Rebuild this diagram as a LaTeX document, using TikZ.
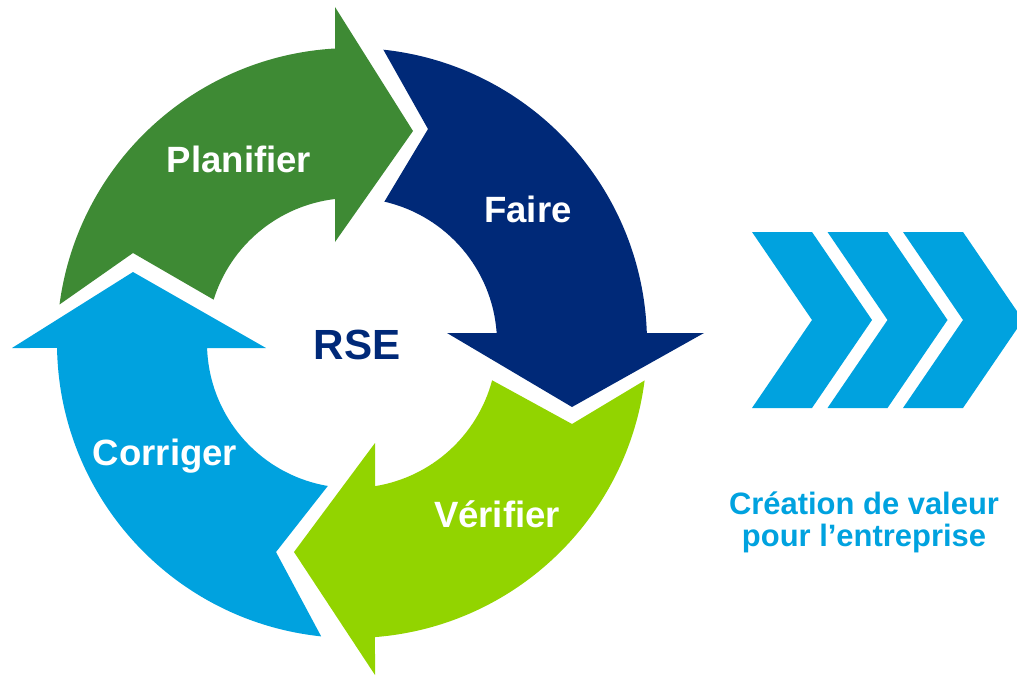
\documentclass[tikz,border=0pt]{standalone}
\usepackage{fontspec}
\setmainfont{Liberation Sans}
\definecolor{planGreen}{HTML}{3E8A34}
\definecolor{faireBlue}{HTML}{002978}
\definecolor{verifGreen}{HTML}{92D400}
\definecolor{corrBlue}{HTML}{00A2DF}

\begin{document}
\begin{tikzpicture}[x=0.025cm, y=-0.025cm,
    lbl/.style={text=white, inner sep=0, anchor=base, font=\bfseries\fontsize{26}{31}\selectfont},
    valtext/.style={text=corrBlue, inner sep=0, anchor=base, font=\bfseries\fontsize{22}{26}\selectfont}]
    \useasboundingbox (0,0) rectangle (1017,676);
    \clip (0,0) rectangle (1017,676);
    \coordinate (c) at (352,343);

    % Draw the cycle arrows
    \fill[planGreen] ([shift={(187.5:295)}]c) arc[start angle=187.5, end angle=266.7, radius=295]
        -- (335,7) -- (413,131) -- (335,242)
        -- ([shift={(263.3:145)}]c) arc[start angle=263.3, end angle=197.4, radius=145]
        -- (133,253) -- cycle;
    \fill[faireBlue] ([shift={(276.1:295)}]c) arc[start angle=276.1, end angle=358.06, radius=295]
        -- (704,333) -- (572,407) -- (447,333)
        -- ([shift={(356.05:145)}]c) arc[start angle=356.05, end angle=282.9, radius=145]
        -- (428,129) -- cycle;
    \fill[verifGreen] ([shift={(7.3:295)}]c) arc[start angle=7.3, end angle=85.53, radius=295]
        -- (375,675) -- (294,552) -- (375,443)
        -- ([shift={(80.87:145)}]c) arc[start angle=80.87, end angle=14.9, radius=145]
        -- (572,424) -- cycle;
    \fill[corrBlue] ([shift={(96:295)}]c) arc[start angle=96, end angle=179.03, radius=295]
        -- (12,348) -- (133,272) -- (266,348)
        -- ([shift={(178.02:145)}]c) arc[start angle=178.02, end angle=99.6, radius=145]
        -- (276,552) -- cycle;

    % Draw labels
    \node[lbl] (plan) at (239,172) {Planifier};
    \node[lbl] (faire) at (528,222) {Faire};
    \node[lbl] (verif) at (497,527) {Vérifier};
    \node[lbl] (corr) at (165,465) {Corriger};
    \node[lbl, text=faireBlue, font=\bfseries\fontsize{30}{36}\selectfont] (rse) at (357,359) {RSE};

    % Draw chevrons
    \foreach \i in {0,1,2} {
        \fill[corrBlue, shift={(752+75.5*\i,0)}] (0,232) -- (60,232) -- (120,320) -- (60,408) -- (0,408) -- (60,320) -- cycle;
    }
    \node[valtext] (val1) at (864,514) {Création de valeur};
    \node[valtext] (val2) at (864,546) {pour l’entreprise};
\end{tikzpicture}
\end{document}
